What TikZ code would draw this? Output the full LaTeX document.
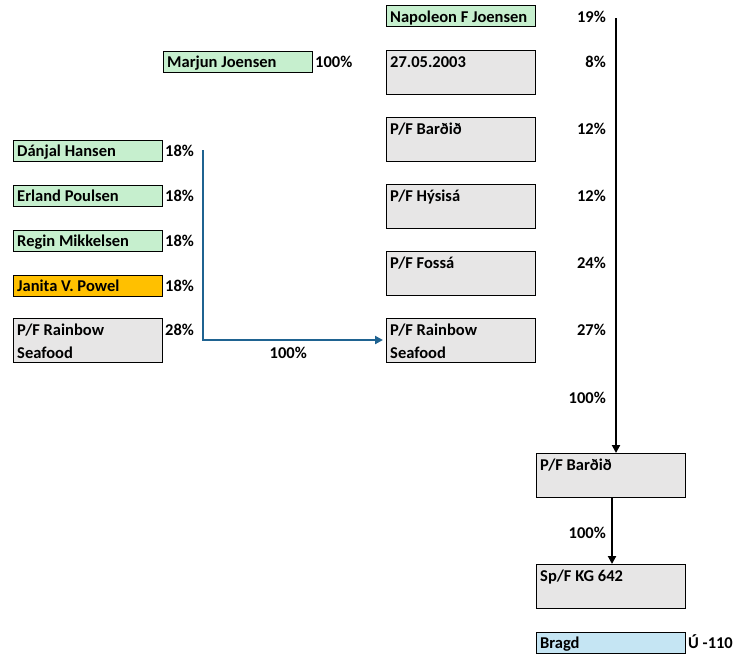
\documentclass[tikz,border=0pt]{standalone}
\usepackage{fontspec}
\setmainfont{Carlito}
\usetikzlibrary{arrows.meta}
\definecolor{gfill}{HTML}{C6EFCE}
\definecolor{bfill}{HTML}{E7E6E6}
\definecolor{ofill}{HTML}{FFC000}
\definecolor{lfill}{HTML}{C5E5F3}
\definecolor{tealline}{HTML}{1F6391}
\tikzset{
  box/.style={draw=black, line width=1.2pt, anchor=north west, minimum width=149pt, inner sep=0pt},
  onerow/.style={box, minimum height=21pt},
  tworow/.style={box, minimum height=44pt},
  lbl/.style={inner sep=0pt, font=\fontsize{16.5}{19}\selectfont\bfseries},
  txt/.style={lbl, anchor=base west},
  pctr/.style={lbl, anchor=base east},
  pctl/.style={lbl, anchor=base west},
  conn/.style={line width=2pt, -{Triangle[length=8pt,width=8pt]}},
}
\begin{document}
\begin{tikzpicture}[x=1pt,y=-1pt]
\useasboundingbox (0,0) rectangle (736,657);
% right column
\node[onerow, fill=gfill] (nap) at (386,5) {};
\node[txt] (napt) at (390,22) {Napoleon F Joensen};
\node[pctr] (napp) at (606,22) {19\%};
\node[tworow, fill=bfill] (dat) at (386,50) {};
\node[txt] (datt) at (390,67) {27.05.2003};
\node[pctr] (datp) at (606,67) {8\%};
\node[tworow, fill=bfill] (bar1) at (386,117) {};
\node[txt] (bar1t) at (390,134) {P/F Barðið};
\node[pctr] (bar1p) at (606,134) {12\%};
\node[tworow, fill=bfill] (hys) at (386,184) {};
\node[txt] (hyst) at (390,201) {P/F Hýsisá};
\node[pctr] (hysp) at (606,201) {12\%};
\node[tworow, fill=bfill] (fos) at (386,251) {};
\node[txt] (fost) at (390,268) {P/F Fossá};
\node[pctr] (fosp) at (606,268) {24\%};
\node[tworow, fill=bfill] (rb2) at (386,318) {};
\node[txt] (rb2t) at (390,335) {P/F Rainbow};
\node[txt] (rb2u) at (390,358) {Seafood};
\node[pctr] (rb2p) at (606,335) {27\%};
% Marjun
\node[onerow, fill=gfill] (mar) at (163,51) {};
\node[txt] (mart) at (167,67) {Marjun Joensen};
\node[pctl] (marp) at (315,67) {100\%};
% left column
\node[onerow, fill=gfill] (dan) at (13,140) {};
\node[txt] (dant) at (17,156) {Dánjal Hansen};
\node[pctl] (danp) at (165,156) {18\%};
\node[onerow, fill=gfill] (erl) at (13,185) {};
\node[txt] (erlt) at (17,201) {Erland Poulsen};
\node[pctl] (erlp) at (165,201) {18\%};
\node[onerow, fill=gfill] (reg) at (13,230) {};
\node[txt] (regt) at (17,246) {Regin Mikkelsen};
\node[pctl] (regp) at (165,246) {18\%};
\node[onerow, fill=ofill] (jan) at (13,275) {};
\node[txt] (jant) at (17,291) {Janita V. Powel};
\node[pctl] (janp) at (165,291) {18\%};
\node[tworow, fill=bfill] (rb1) at (13,318) {};
\node[txt] (rb1t) at (17,335) {P/F Rainbow};
\node[txt] (rb1u) at (17,358) {Seafood};
\node[pctl] (rb1p) at (165,335) {28\%};
% bottom
\node[tworow, fill=bfill] (bar2) at (536,453) {};
\node[txt] (bar2t) at (540,470) {P/F Barðið};
\node[tworow, fill=bfill] (kg) at (536,564) {};
\node[txt] (kgt) at (540,581) {Sp/F KG 642};
\node[onerow, fill=lfill] (brg) at (536,632) {};
\node[txt] (brgt) at (540,648) {Bragd};
\node[pctl] (brgp) at (688,648) {Ú -110};
% connectors
\coordinate (ts) at (203,150);
\coordinate (tc) at (203,340);
\draw[conn, draw=tealline] (ts) -- (tc) -- ([xshift=-3pt]rb2.west |- tc);
\node[pctr] (tpct) at (307,358) {100\%};
\coordinate (bs) at (616,18);
\draw[conn] (bs) -- (bs |- bar2.north);
\node[pctr] (bpct) at (606,403) {100\%};
\coordinate (b2s) at (612,497);
\draw[conn] (b2s) -- (b2s |- kg.north);
\node[pctr] (b2pct) at (606,538) {100\%};
\end{tikzpicture}
\end{document}
